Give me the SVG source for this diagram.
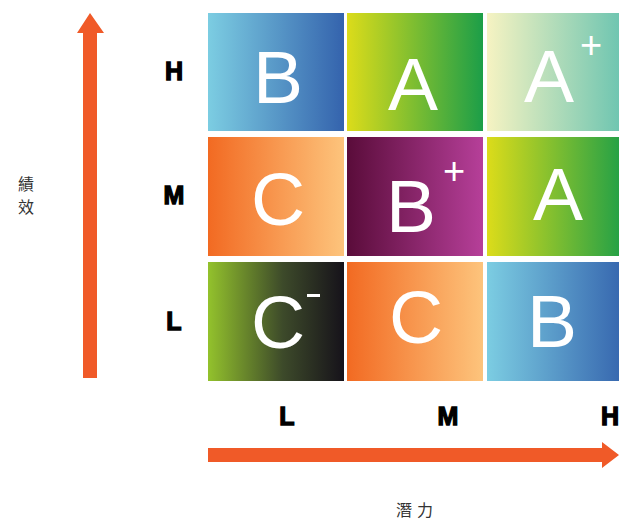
<svg xmlns="http://www.w3.org/2000/svg" width="619" height="521" viewBox="0 0 619 521">
<defs>
<linearGradient id="gB" x1="0" y1="0" x2="1" y2="0"><stop offset="0" stop-color="#7ccde2"/><stop offset="1" stop-color="#3463ad"/></linearGradient>
<linearGradient id="gA" x1="0" y1="0" x2="1" y2="0"><stop offset="0" stop-color="#dcdc1a"/><stop offset="1" stop-color="#1c9e48"/></linearGradient>
<linearGradient id="gAp" x1="0" y1="0" x2="1" y2="0"><stop offset="0" stop-color="#f6f3c2"/><stop offset="1" stop-color="#68c3b0"/></linearGradient>
<linearGradient id="gC" x1="0" y1="0" x2="1" y2="0"><stop offset="0" stop-color="#f26a22"/><stop offset="1" stop-color="#fdc47c"/></linearGradient>
<linearGradient id="gBp" x1="0" y1="0" x2="1" y2="0"><stop offset="0" stop-color="#5a0c3a"/><stop offset="1" stop-color="#b63f99"/></linearGradient>
<linearGradient id="gCm" x1="0" y1="0" x2="1" y2="0"><stop offset="0" stop-color="#93c22c"/><stop offset="0.55" stop-color="#3d4a2a"/><stop offset="1" stop-color="#16121a"/></linearGradient>
<style>
.grade{font-family:"Liberation Sans",Arial,sans-serif;font-size:75px;fill:#fff;text-anchor:middle}
.sup{font-family:"Liberation Sans",Arial,sans-serif;font-size:38px;fill:#fff}
.axis{font-family:"Liberation Sans",Arial,sans-serif;font-size:25px;font-weight:bold;fill:#000;stroke:#000;stroke-width:1.3;text-anchor:middle}
.cap{font-family:"Noto Sans CJK TC","Noto Sans CJK SC",sans-serif;font-size:16px;fill:#333}
.arrow{fill:#f05a28}
</style>
</defs>
<g id="connectors">
<path class="arrow" d="M83,378 L83,33 L77,33 L90,13 L104,33 L97,33 L97,378 Z"/>
<path class="arrow" d="M208,448 L602,448 L602,442 L619,455 L602,468 L602,462 L208,462 Z"/>
</g>
<g id="cell-H-L"><rect x="208" y="13" width="136" height="118" fill="url(#gB)"/><text class="grade" x="278" y="103">B</text></g>
<g id="cell-H-M"><rect x="347" y="13" width="136" height="118" fill="url(#gA)"/><text class="grade" x="413" y="110">A</text></g>
<g id="cell-H-H"><rect x="487" y="13" width="140" height="118" fill="url(#gAp)"/><text class="grade" x="549" y="102">A</text><text class="sup" x="580" y="58">+</text></g>
<g id="cell-M-L"><rect x="208" y="137" width="136" height="119" fill="url(#gC)"/><text class="grade" x="278" y="225">C</text></g>
<g id="cell-M-M"><rect x="347" y="137" width="136" height="119" fill="url(#gBp)"/><text class="grade" x="411" y="232">B</text><text class="sup" x="443" y="184">+</text></g>
<g id="cell-M-H"><rect x="487" y="137" width="140" height="119" fill="url(#gA)"/><text class="grade" x="558" y="220">A</text></g>
<g id="cell-L-L"><rect x="208" y="262" width="136" height="119" fill="url(#gCm)"/><text class="grade" x="278" y="348">C</text><rect x="307" y="294" width="13" height="3" fill="#fff"/></g>
<g id="cell-L-M"><rect x="347" y="262" width="136" height="119" fill="url(#gC)"/><text class="grade" x="416" y="343">C</text></g>
<g id="cell-L-H"><rect x="487" y="262" width="140" height="119" fill="url(#gB)"/><text class="grade" x="552" y="347">B</text></g>
<g id="row-labels">
<text class="axis" x="174" y="80">H</text>
<text class="axis" x="174" y="204">M</text>
<text class="axis" x="174" y="330">L</text>
</g>
<g id="col-labels">
<text class="axis" x="287" y="425">L</text>
<text class="axis" x="448" y="425">M</text>
<text class="axis" x="610" y="425">H</text>
</g>
<g id="y-title"><text class="cap" x="18" y="190">績</text><text class="cap" x="18" y="213">效</text></g>
<g id="x-title"><text class="cap" x="396" y="516" letter-spacing="5">潛力</text></g>
</svg>
